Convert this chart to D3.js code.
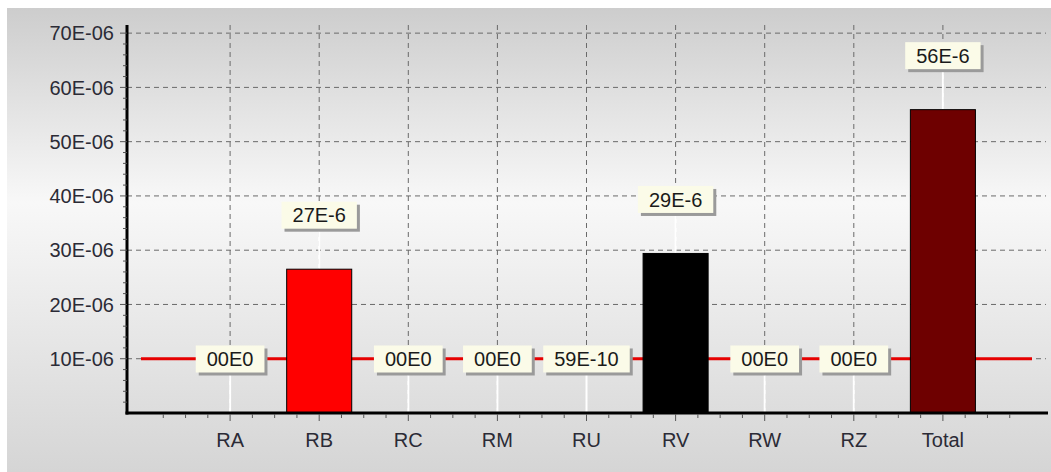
<!DOCTYPE html>
<html>
<head>
<meta charset="utf-8">
<script src="https://cdn.jsdelivr.net/npm/d3@7"></script>
<style>
  body { margin: 0; background: #fff; }
  svg { display: block; font-family: "Liberation Sans", Arial, sans-serif; }
</style>
</head>
<body>
<svg id="chart"></svg>
<script>
const categories = ["RA", "RB", "RC", "RM", "RU", "RV", "RW", "RZ", "Total"];
const values = [0, 26.5e-6, 0, 0, 5.9e-9, 29.4e-6, 0, 0, 55.9e-6];
const valueLabels = ["00E0", "27E-6", "00E0", "00E0", "59E-10", "29E-6", "00E0", "00E0", "56E-6"];
const barColors = ["#ff0000", "#ff0000", "#ff0000", "#ff0000", "#ff0000", "#000000", "#ff0000", "#ff0000", "#6e0000"];
const yTickValues = [10e-6, 20e-6, 30e-6, 40e-6, 50e-6, 60e-6, 70e-6];
const yTickLabels = ["10E-06", "20E-06", "30E-06", "40E-06", "50E-06", "60E-06", "70E-06"];
const limitValue = 10e-6;

const width = 1051;
const height = 472;
const fontSize = 20;

const svg = d3.select("#chart").attr("width", width).attr("height", height);

// background gradient
const grad = svg.append("defs").append("linearGradient")
  .attr("id", "bg").attr("x1", 0).attr("y1", 0).attr("x2", 0).attr("y2", 1);
grad.append("stop").attr("offset", "0%").attr("stop-color", "#cdcdcd");
grad.append("stop").attr("offset", "42%").attr("stop-color", "#f8f8f8");
grad.append("stop").attr("offset", "100%").attr("stop-color", "#d5d5d5");

svg.append("rect")
  .attr("x", 7).attr("y", 8)
  .attr("width", width - 7).attr("height", height - 8)
  .attr("fill", "url(#bg)");

// x is a linear slot scale: category i sits at i + 1
const x = d3.scaleLinear().domain([0, 10]).range([141, 1032]);
const y = d3.scaleLinear().domain([0, 71.5e-6]).range([413, 25]);
const axisX = 127;
const slot = x(1) - x(0);
const barW = slot * 0.73;

// gridlines
svg.append("g")
  .selectAll("line")
  .data(yTickValues)
  .join("line")
  .attr("x1", axisX).attr("x2", 1046)
  .attr("y1", (d) => y(d)).attr("y2", (d) => y(d))
  .attr("stroke", "#6a6a6a")
  .attr("stroke-dasharray", "5,4");

svg.append("g")
  .selectAll("line")
  .data(categories)
  .join("line")
  .attr("x1", (d, i) => x(i + 1)).attr("x2", (d, i) => x(i + 1))
  .attr("y1", 25).attr("y2", 411)
  .attr("stroke", "#6a6a6a")
  .attr("stroke-dasharray", "5,4");

// limit line
svg.append("line")
  .attr("x1", x(0)).attr("x2", x(10))
  .attr("y1", y(limitValue)).attr("y2", y(limitValue))
  .attr("stroke", "#e60000")
  .attr("stroke-width", 3);

// label positions
const labelY = values.map((v) => y(v) - 54);

// connectors
svg.append("g")
  .selectAll("line")
  .data(values)
  .join("line")
  .attr("x1", (d, i) => x(i + 1)).attr("x2", (d, i) => x(i + 1))
  .attr("y1", (d, i) => labelY[i] + 13)
  .attr("y2", (d) => y(d))
  .attr("stroke", "#ffffff")
  .attr("stroke-width", 2);

// bars
svg.append("g")
  .selectAll("rect")
  .data(values)
  .join("rect")
  .attr("x", (d, i) => x(i + 1) - barW / 2)
  .attr("width", barW)
  .attr("y", (d) => y(d))
  .attr("height", (d) => y(0) - y(d))
  .attr("fill", (d, i) => barColors[i])
  .attr("stroke", "#000")
  .attr("stroke-width", 1);

// y axis
const yAxis = svg.append("g");
yAxis.append("line")
  .attr("x1", axisX).attr("x2", axisX)
  .attr("y1", 25).attr("y2", 414.5)
  .attr("stroke", "#000").attr("stroke-width", 3);
const yMinor = d3.range(2e-6, 71e-6, 2e-6).filter((v) => Math.round(v * 1e6) % 10 !== 0);
yAxis.selectAll(".ymin")
  .data(yMinor)
  .join("line")
  .attr("x1", axisX - 4).attr("x2", axisX)
  .attr("y1", (d) => y(d)).attr("y2", (d) => y(d))
  .attr("stroke", "#555");
yAxis.selectAll(".ymaj")
  .data(yTickValues)
  .join("line")
  .attr("x1", axisX - 7).attr("x2", axisX)
  .attr("y1", (d) => y(d)).attr("y2", (d) => y(d))
  .attr("stroke", "#555");
yAxis.selectAll("text")
  .data(yTickValues)
  .join("text")
  .attr("x", 114)
  .attr("y", (d) => y(d))
  .attr("dy", "0.36em")
  .attr("text-anchor", "end")
  .attr("font-size", fontSize)
  .attr("fill", "#2b2b36")
  .text((d, i) => yTickLabels[i]);

// x axis
const xAxis = svg.append("g");
xAxis.append("line")
  .attr("x1", axisX - 1.5).attr("x2", 1048)
  .attr("y1", 413).attr("y2", 413)
  .attr("stroke", "#000").attr("stroke-width", 3);
xAxis.selectAll(".xmin")
  .data(d3.range(0.25, 10, 0.25))
  .join("line")
  .attr("x1", (d) => x(d)).attr("x2", (d) => x(d))
  .attr("y1", 414).attr("y2", (d) => (d % 1 === 0 ? 421 : 418))
  .attr("stroke", "#555");
xAxis.selectAll("text")
  .data(categories)
  .join("text")
  .attr("x", (d, i) => x(i + 1))
  .attr("y", 447)
  .attr("text-anchor", "middle")
  .attr("font-size", fontSize)
  .attr("fill", "#2b2b36")
  .text((d) => d);

// value labels
const lab = svg.append("g")
  .selectAll("g")
  .data(valueLabels)
  .join("g")
  .attr("transform", (d, i) => `translate(${x(i + 1)},${labelY[i]})`);

lab.append("text")
  .attr("text-anchor", "middle")
  .attr("dy", "0.36em")
  .attr("font-size", fontSize)
  .attr("fill", "#1a1a1a")
  .text((d) => d);

lab.each(function () {
  const g = d3.select(this);
  const t = g.select("text");
  const w = t.node().getComputedTextLength() + 22;
  const h = 27;
  g.insert("rect", "text")
    .attr("x", -w / 2 + 3).attr("y", -h / 2 + 3)
    .attr("width", w).attr("height", h)
    .attr("fill", "#9a9a9a");
  g.insert("rect", "text")
    .attr("x", -w / 2).attr("y", -h / 2)
    .attr("width", w).attr("height", h)
    .attr("fill", "#fbfbe8");
});
</script>
</body>
</html>
